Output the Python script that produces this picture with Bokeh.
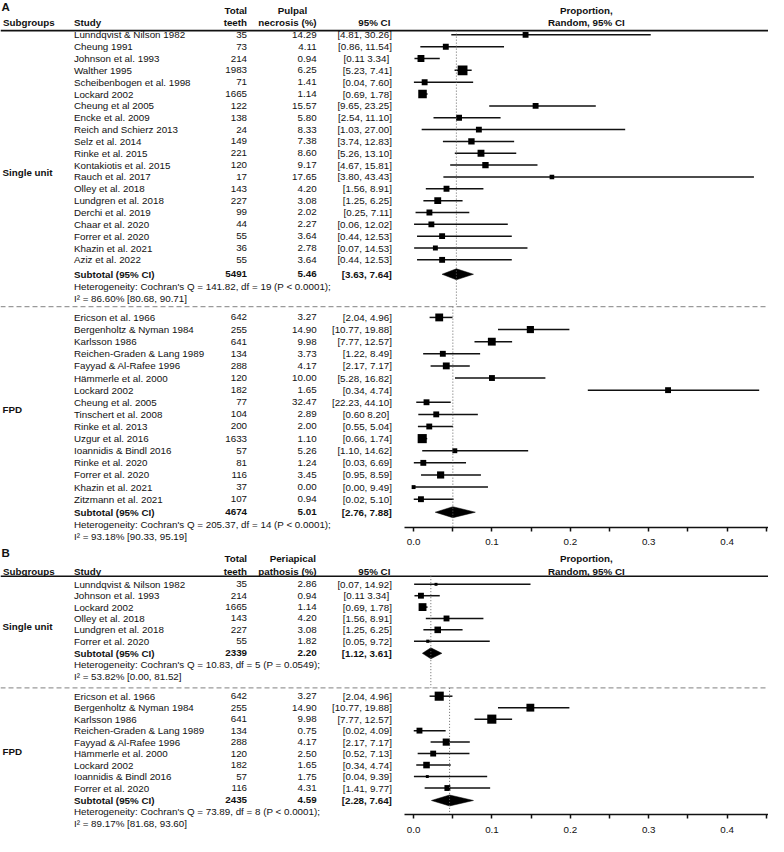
from bokeh.plotting import figure
from bokeh.models import ColumnDataSource, Range1d, LinearAxis, FixedTicker, PrintfTickFormatter
from bokeh.core.properties import value
from bokeh.embed import file_html
from bokeh.resources import INLINE

# ---------------- DATA ----------------
# Panel A, single unit (pulpal necrosis)
a_su_study = ["Lunndqvist & Nilson 1982", "Cheung 1991", "Johnson et al. 1993", "Walther 1995",
              "Scheibenbogen et al. 1998", "Lockard 2002", "Cheung et al 2005", "Encke et al. 2009",
              "Reich and Schierz 2013", "Selz et al. 2014", "Rinke et al. 2015", "Kontakiotis et al. 2015",
              "Rauch et al. 2017", "Olley et al. 2018", "Lundgren et al. 2018", "Derchi et al. 2019",
              "Chaar et al. 2020", "Forrer et al. 2020", "Khazin et al. 2021", "Aziz et al. 2022"]
a_su_n = [35, 73, 214, 1983, 71, 1665, 122, 138, 24, 149, 221, 120, 17, 143, 227, 99, 44, 55, 36, 55]
a_su_pct = [14.29, 4.11, 0.94, 6.25, 1.41, 1.14, 15.57, 5.80, 8.33, 7.38, 8.60, 9.17, 17.65, 4.20,
            3.08, 2.02, 2.27, 3.64, 2.78, 3.64]
a_su_lo = [4.81, 0.86, 0.11, 5.23, 0.04, 0.69, 9.65, 2.54, 1.03, 3.74, 5.26, 4.67, 3.80, 1.56,
           1.25, 0.25, 0.06, 0.44, 0.07, 0.44]
a_su_hi = [30.26, 11.54, 3.34, 7.41, 7.60, 1.78, 23.25, 11.10, 27.00, 12.83, 13.10, 15.81, 43.43,
           8.91, 6.25, 7.11, 12.02, 12.53, 14.53, 12.53]
a_su_weight = [6, 6, 7, 10, 6, 8.7, 6, 6, 6, 6.5, 7, 6.5, 4.7, 6, 7, 6, 6, 6, 5, 6]
a_su_total = [5491, 5.46, 3.63, 7.64]
a_su_het = ["Heterogeneity: Cochran's Q = 141.82, df = 19 (P < 0.0001);", "I\u00b2 = 86.60% [80.68, 90.71]"]

# Panel A, FPD
a_fpd_study = ["Ericson et al. 1966", "Bergenholtz & Nyman 1984", "Karlsson 1986",
               "Reichen-Graden & Lang 1989", "Fayyad & Al-Rafee 1996", "H\u00e4mmerle et al. 2000",
               "Lockard 2002", "Cheung et al. 2005", "Tinschert et al. 2008", "Rinke et al. 2013",
               "Uzgur et al. 2016", "Ioannidis & Bindl 2016", "Rinke et al. 2020", "Forrer et al. 2020",
               "Khazin et al. 2021", "Zitzmann et al. 2021"]
a_fpd_n = [642, 255, 641, 134, 288, 120, 182, 77, 104, 200, 1633, 57, 81, 116, 37, 107]
a_fpd_pct = [3.27, 14.90, 9.98, 3.73, 4.17, 10.00, 1.65, 32.47, 2.89, 2.00, 1.10, 5.26, 1.24, 3.45, 0.00, 0.94]
a_fpd_lo = [2.04, 10.77, 7.77, 1.22, 2.17, 5.28, 0.34, 22.23, 0.60, 0.55, 0.66, 1.10, 0.03, 0.95, 0.00, 0.02]
a_fpd_hi = [4.96, 19.88, 12.57, 8.49, 7.17, 16.82, 4.74, 44.10, 8.20, 5.04, 1.74, 14.62, 6.69, 8.59, 9.49, 5.10]
a_fpd_weight = [8, 7.3, 8, 6, 7, 6, 6, 6, 6, 6, 9.3, 5, 6, 7.3, 4, 6]
# in the source figure the markers of "Lockard 2002" and "Cheung et al. 2005" sit on each other's row
a_fpd_plot_row = [0, 1, 2, 3, 4, 5, 7, 6, 8, 9, 10, 11, 12, 13, 14, 15]
a_fpd_total = [4674, 5.01, 2.76, 7.88]
a_fpd_het = ["Heterogeneity: Cochran's Q = 205.37, df = 14 (P < 0.0001);", "I\u00b2 = 93.18% [90.33, 95.19]"]

# Panel B, single unit (periapical pathosis)
b_su_study = ["Lunndqvist & Nilson 1982", "Johnson et al. 1993", "Lockard 2002", "Olley et al. 2018",
              "Lundgren et al. 2018", "Forrer et al. 2020"]
b_su_n = [35, 214, 1665, 143, 227, 55]
b_su_pct = [2.86, 0.94, 1.14, 4.20, 3.08, 1.82]
b_su_lo = [0.07, 0.11, 0.69, 1.56, 1.25, 0.05]
b_su_hi = [14.92, 3.34, 1.78, 8.91, 6.25, 9.72]
b_su_weight = [3, 6, 8, 6, 6.7, 3.3]
b_su_total = [2339, 2.20, 1.12, 3.61]
b_su_het = ["Heterogeneity: Cochran's Q = 10.83, df = 5 (P = 0.0549);", "I\u00b2 = 53.82% [0.00, 81.52]"]

# Panel B, FPD
b_fpd_study = ["Ericson et al. 1966", "Bergenholtz & Nyman 1984", "Karlsson 1986",
               "Reichen-Graden & Lang 1989", "Fayyad & Al-Rafee 1996", "H\u00e4mmerle et al. 2000",
               "Lockard 2002", "Ioannidis & Bindl 2016", "Forrer et al. 2020"]
b_fpd_n = [642, 255, 641, 134, 288, 120, 182, 57, 116]
b_fpd_pct = [3.27, 14.90, 9.98, 0.75, 4.17, 2.50, 1.65, 1.75, 4.31]
b_fpd_lo = [2.04, 10.77, 7.77, 0.02, 2.17, 0.52, 0.34, 0.04, 1.41]
b_fpd_hi = [4.96, 19.88, 12.57, 4.09, 7.17, 7.13, 4.74, 9.39, 9.77]
b_fpd_weight = [9.3, 8, 9.3, 6, 7.3, 6, 6.7, 3, 6]
b_fpd_total = [2435, 4.59, 2.28, 7.64]
b_fpd_het = ["Heterogeneity: Cochran's Q = 73.89, df = 8 (P < 0.0001);", "I\u00b2 = 89.17% [81.68, 93.60]"]

# CI labels printed without a comma in the source table
no_comma_ci = {"A_SU": ["Johnson et al. 1993"], "A_FPD": ["Tinschert et al. 2008"],
               "B_SU": ["Johnson et al. 1993"]}

x_ticks = [0.0, 0.1, 0.2, 0.3, 0.4]
x_minor_ticks = [0.05, 0.15, 0.25, 0.35, 0.45]

# ---------------- LAYOUT ----------------
REF_W, REF_H = 784, 852
W, H = 768, 836
X0_PX, PX_PER_UNIT = 421.7, 800.0
FONT = "Liberation Sans"
FS = "9.8px"
INK = "#111111"


def px2x(px):
    return (px - X0_PX) / PX_PER_UNIT


p = figure(width=W, height=H, x_range=Range1d(px2x(0), px2x(REF_W)), y_range=Range1d(REF_H, 0),
           output_backend="svg", toolbar_location=None, x_axis_location=None, y_axis_location=None,
           min_border=0, outline_line_color=None)
p.grid.visible = False
p.background_fill_color = "white"


def add_text(xs, ys, texts, align="left", bold=False, size=FS):
    src = ColumnDataSource(dict(x=list(xs), y=list(ys), t=list(texts)))
    p.text(x="x", y="y", text="t", source=src, text_font=value(FONT), text_font_size=size,
           text_align=align, text_baseline="middle", text_color=INK,
           text_font_style="bold" if bold else "normal")


COL_STUDY, COL_N, COL_PCT, COL_CI = 75, 251.7, 322.7, 399.5


def draw_block(key, study, n, pct, lo, hi, weight, total, het, label, lay, plot_row=None):
    y0, step, sub_y, het_y, lab_y = lay
    k = len(study)
    ys = [y0 + i * step for i in range(k)]
    rows = plot_row if plot_row is not None else list(range(k))
    ys_plot = [y0 + r * step for r in rows]
    # table text
    add_text([px2x(COL_STUDY)] * k, ys, study)
    add_text([px2x(COL_N)] * k, ys, [str(v) for v in n], align="right")
    add_text([px2x(COL_PCT)] * k, ys, ["%.2f" % v for v in pct], align="right")
    nc = no_comma_ci.get(key, [])
    cis = [("[%.2f  %.2f]" if s in nc else "[%.2f, %.2f]") % (a, b) for s, a, b in zip(study, lo, hi)]
    add_text([px2x(COL_CI)] * k, ys, cis, align="right")
    # subtotal
    add_text([px2x(COL_STUDY)], [sub_y], ["Subtotal (95% CI)"], bold=True)
    add_text([px2x(COL_N)], [sub_y], [str(total[0])], align="right", bold=True)
    add_text([px2x(COL_PCT)], [sub_y], ["%.2f" % total[1]], align="right", bold=True)
    add_text([px2x(COL_CI)], [sub_y], ["[%.2f, %.2f]" % (total[2], total[3])], align="right", bold=True)
    add_text([px2x(COL_STUDY)] * 2, het_y, het)
    add_text([px2x(2)], [lab_y], [label], bold=True)
    # forest marks
    src = ColumnDataSource(dict(est=[v / 100 for v in pct], lo=[v / 100 for v in lo],
                                hi=[v / 100 for v in hi], y=ys_plot, s=[w * 0.98 for w in weight]))
    p.segment(x0="lo", y0="y", x1="hi", y1="y", source=src, line_color=INK, line_width=1.5)
    p.scatter(x="est", y="y", size="s", marker="square", source=src, fill_color="black",
              line_color=None)
    e, l, h = total[1] / 100, total[2] / 100, total[3] / 100
    p.patch([l, e, h, e], [sub_y, sub_y - 5.6, sub_y, sub_y + 5.6], fill_color="black",
            line_color="black", line_width=0.5)
    return e


def draw_header(y1, y2, line_y, outcome1, outcome2, panel, panel_y, out1_x, out1_align):
    add_text([px2x(1)], [panel_y], [panel], bold=True, size="11.5px")
    add_text([px2x(2.5)], [y2], ["Subgroups"], bold=True)
    add_text([px2x(COL_STUDY)], [y2], ["Study"], bold=True)
    add_text([px2x(COL_N)] * 2, [y1, y2], ["Total", "teeth"], align="right", bold=True)
    add_text([px2x(out1_x)], [y1], [outcome1], align=out1_align, bold=True)
    add_text([px2x(COL_PCT)], [y2], [outcome2], align="right", bold=True)
    add_text([px2x(398)], [y2], ["95% CI"], align="right", bold=True)
    add_text([px2x(598)] * 2, [y1, y2], ["Proportion,", "Random, 95% CI"], align="center", bold=True)
    p.segment(x0=[px2x(0)], y0=[line_y], x1=[px2x(REF_W)], y1=[line_y], line_color=INK, line_width=1.6)


# ---- Panel A ----
draw_header(10, 22.3, 30.7, "Pulpal", "necrosis (%)", "A", 7, 298, "center")
e_a_su = draw_block("A_SU", a_su_study, a_su_n, a_su_pct, a_su_lo, a_su_hi, a_su_weight, a_su_total,
                    a_su_het, "Single unit", (35, 12.07, 279, [291.7, 304], 175))
e_a_fpd = draw_block("A_FPD", a_fpd_study, a_fpd_n, a_fpd_pct, a_fpd_lo, a_fpd_hi, a_fpd_weight,
                     a_fpd_total, a_fpd_het, "FPD", (323, 12.35, 521.5, [534.3, 546], 417),
                     plot_row=a_fpd_plot_row)

# ---- Panel B ----
draw_header(568.3, 581.7, 586.7, "Periapical", "pathosis (%)", "B", 563, 322, "right")
e_b_su = draw_block("B_SU", b_su_study, b_su_n, b_su_pct, b_su_lo, b_su_hi, b_su_weight, b_su_total,
                    b_su_het, "Single unit", (595, 11.6, 665.3, [677, 689], 637.7))
e_b_fpd = draw_block("B_FPD", b_fpd_study, b_fpd_n, b_fpd_pct, b_fpd_lo, b_fpd_hi, b_fpd_weight,
                     b_fpd_total, b_fpd_het, "FPD", (709, 11.7, 815.3, [827, 839], 765.7))

# separators (dashed) and reference lines (dotted)
p.segment(x0=[px2x(0)] * 2, y0=[312, 700.5], x1=[px2x(REF_W)] * 2, y1=[312, 700.5],
          line_color="#9a9a9a", line_width=1.3, line_dash="5 3")
p.segment(x0=[e_a_su, e_a_fpd, e_b_su, e_b_fpd], y0=[30.7, 312, 586.7, 700.5],
          x1=[e_a_su, e_a_fpd, e_b_su, e_b_fpd], y1=[312, 537, 700.5, 830],
          line_color="#666666", line_width=1, line_dash="1 2")

# x axes, one per panel
for yloc in (537, 830):
    ax = LinearAxis(fixed_location=yloc, bounds=(px2x(412.7), px2x(REF_W)),
                    ticker=FixedTicker(ticks=x_ticks, minor_ticks=x_minor_ticks),
                    formatter=PrintfTickFormatter(format="%.1f"))
    ax.axis_line_width = 1.7
    ax.axis_line_color = INK
    ax.major_tick_line_color = INK
    ax.major_tick_line_width = 1.5
    ax.major_tick_in = 0
    ax.major_tick_out = 4
    ax.minor_tick_line_color = INK
    ax.minor_tick_line_width = 1.5
    ax.minor_tick_in = 0
    ax.minor_tick_out = 4
    ax.major_label_text_font = FONT
    ax.major_label_text_font_size = FS
    ax.major_label_text_color = INK
    ax.major_label_standoff = 8
    p.add_layout(ax, "below")

open("out.html", "w").write(file_html(p, INLINE))
